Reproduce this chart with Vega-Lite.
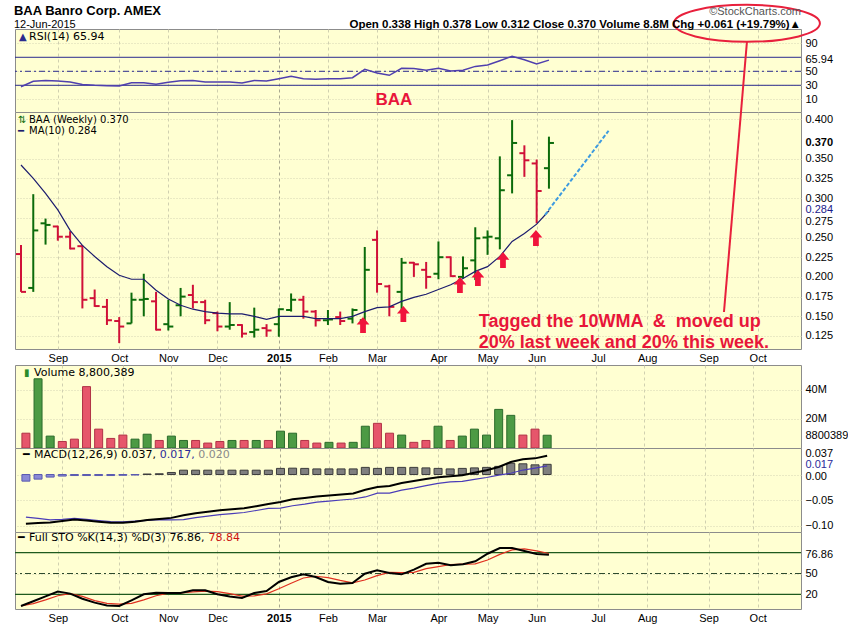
{
"$schema": "https://vega.github.io/schema/vega-lite/v6.json",
"background": "white",
"padding": {"left": 13, "top": 0, "right": 0, "bottom": 0},
"spacing": 0,
"bounds": "flush",
"title": {"text": "BAA Banro Corp. AMEX", "subtitle": "12-Jun-2015", "anchor": "start", "font": "Liberation Sans Narrow, Liberation Sans", "fontSize": 13, "fontWeight": "bold", "color": "#000000", "subtitleFont": "Liberation Sans", "subtitleFontSize": 11, "subtitleColor": "#000000", "subtitlePadding": 1, "offset": -30},
"config": {
  "view": {"fill": "#ffffd2", "stroke": "#8c8c8c", "strokeWidth": 1},
  "axis": {"domain": false, "ticks": false, "labelFont": "Liberation Sans", "labelFontSize": 11, "labelColor": "#000000", "gridColor": "#d4d4b4", "gridDash": [1, 2], "labelPadding": 4, "labelOverlap": false},
  "text": {"font": "DejaVu Sans"}
},
"datasets": {"w": [
{"d":"2014-08-11T00:00","o":0.229,"h":0.2405,"l":0.181,"c":0.181,"dir":"down","v":10200000,"ma":0.342,"rsi":28,"macd":-0.0965,"sig":-0.0835,"hist":-0.013,"k":3.2,"dd":3.2},
{"d":"2014-08-18T00:00","o":0.186,"h":0.305,"l":0.181,"c":0.259,"dir":"up","v":47700000,"ma":0.325,"rsi":35.7,"macd":-0.095,"sig":-0.086,"hist":-0.009,"k":10,"dd":6.5},
{"d":"2014-08-25T00:00","o":0.268,"h":0.274,"l":0.241,"c":0.266,"dir":"up","v":8200000,"ma":0.306,"rsi":37,"macd":-0.094,"sig":-0.089,"hist":-0.005,"k":17,"dd":12},
{"d":"2014-09-01T00:00","o":0.264,"h":0.265,"l":0.246,"c":0.251,"dir":"down","v":4500000,"ma":0.285,"rsi":36,"macd":-0.091,"sig":-0.088,"hist":-0.003,"k":24,"dd":18},
{"d":"2014-09-08T00:00","o":0.251,"h":0.258,"l":0.235,"c":0.236,"dir":"down","v":6100000,"ma":0.259,"rsi":34.7,"macd":-0.088,"sig":-0.086,"hist":-0.002,"k":21,"dd":21},
{"d":"2014-09-15T00:00","o":0.239,"h":0.24,"l":0.16,"c":0.171,"dir":"down","v":42300000,"ma":0.24,"rsi":31,"macd":-0.09,"sig":-0.088,"hist":-0.002,"k":13.7,"dd":17},
{"d":"2014-09-22T00:00","o":0.173,"h":0.184,"l":0.162,"c":0.163,"dir":"down","v":13000000,"ma":0.226,"rsi":30,"macd":-0.0925,"sig":-0.0905,"hist":-0.002,"k":8,"dd":11},
{"d":"2014-09-29T00:00","o":0.162,"h":0.172,"l":0.139,"c":0.145,"dir":"down","v":6600000,"ma":0.213,"rsi":29.5,"macd":-0.0945,"sig":-0.0925,"hist":-0.002,"k":4,"dd":7},
{"d":"2014-10-06T00:00","o":0.144,"h":0.149,"l":0.116,"c":0.137,"dir":"down","v":8900000,"ma":0.202,"rsi":29,"macd":-0.0945,"sig":-0.093,"hist":-0.0015,"k":3.2,"dd":6},
{"d":"2014-10-13T00:00","o":0.141,"h":0.18,"l":0.141,"c":0.171,"dir":"up","v":6100000,"ma":0.197,"rsi":33.7,"macd":-0.0925,"sig":-0.0915,"hist":-0.001,"k":11.4,"dd":7},
{"d":"2014-10-20T00:00","o":0.171,"h":0.204,"l":0.15,"c":0.172,"dir":"up","v":9500000,"ma":0.197,"rsi":33.7,"macd":-0.089,"sig":-0.09,"hist":0.001,"k":20,"dd":12},
{"d":"2014-10-27T00:00","o":0.169,"h":0.181,"l":0.132,"c":0.133,"dir":"down","v":5200000,"ma":0.183,"rsi":31.4,"macd":-0.087,"sig":-0.0885,"hist":0.0015,"k":22.4,"dd":18},
{"d":"2014-11-03T00:00","o":0.14,"h":0.171,"l":0.132,"c":0.137,"dir":"up","v":8200000,"ma":0.172,"rsi":34.3,"macd":-0.085,"sig":-0.089,"hist":0.004,"k":22,"dd":21.5},
{"d":"2014-11-10T00:00","o":0.164,"h":0.186,"l":0.15,"c":0.175,"dir":"up","v":5200000,"ma":0.164,"rsi":36.6,"macd":-0.08,"sig":-0.0885,"hist":0.0085,"k":22,"dd":22},
{"d":"2014-11-17T00:00","o":0.177,"h":0.19,"l":0.16,"c":0.168,"dir":"down","v":5200000,"ma":0.159,"rsi":37,"macd":-0.076,"sig":-0.0845,"hist":0.0085,"k":25.8,"dd":23.5},
{"d":"2014-11-24T00:00","o":0.168,"h":0.171,"l":0.14,"c":0.145,"dir":"down","v":3400000,"ma":0.156,"rsi":34.7,"macd":-0.073,"sig":-0.0815,"hist":0.0085,"k":25.8,"dd":24.5},
{"d":"2014-12-01T00:00","o":0.154,"h":0.156,"l":0.131,"c":0.137,"dir":"down","v":4500000,"ma":0.154,"rsi":34.7,"macd":-0.07,"sig":-0.0785,"hist":0.0085,"k":20,"dd":23.8},
{"d":"2014-12-08T00:00","o":0.137,"h":0.168,"l":0.133,"c":0.139,"dir":"up","v":5200000,"ma":0.153,"rsi":34.7,"macd":-0.068,"sig":-0.0765,"hist":0.0085,"k":17,"dd":21},
{"d":"2014-12-15T00:00","o":0.139,"h":0.14,"l":0.123,"c":0.128,"dir":"down","v":5200000,"ma":0.153,"rsi":33.3,"macd":-0.066,"sig":-0.0745,"hist":0.0085,"k":14.7,"dd":17.5},
{"d":"2014-12-22T00:00","o":0.13,"h":0.161,"l":0.123,"c":0.133,"dir":"up","v":5200000,"ma":0.15,"rsi":37,"macd":-0.062,"sig":-0.0705,"hist":0.0085,"k":21.9,"dd":17.8},
{"d":"2014-12-29T00:00","o":0.135,"h":0.14,"l":0.124,"c":0.132,"dir":"down","v":5200000,"ma":0.146,"rsi":36,"macd":-0.058,"sig":-0.0665,"hist":0.0085,"k":24.8,"dd":20.6},
{"d":"2015-01-05T00:00","o":0.14,"h":0.16,"l":0.124,"c":0.159,"dir":"up","v":11600000,"ma":0.15,"rsi":39.5,"macd":-0.054,"sig":-0.066,"hist":0.012,"k":37.8,"dd":28},
{"d":"2015-01-12T00:00","o":0.158,"h":0.179,"l":0.156,"c":0.171,"dir":"up","v":10200000,"ma":0.15,"rsi":42.8,"macd":-0.0487,"sig":-0.0612,"hist":0.0125,"k":44.5,"dd":36},
{"d":"2015-01-19T00:00","o":0.171,"h":0.176,"l":0.147,"c":0.156,"dir":"down","v":5200000,"ma":0.15,"rsi":39.5,"macd":-0.046,"sig":-0.058,"hist":0.012,"k":48.8,"dd":43.5},
{"d":"2015-01-26T00:00","o":0.156,"h":0.158,"l":0.137,"c":0.145,"dir":"down","v":3400000,"ma":0.147,"rsi":38.6,"macd":-0.043,"sig":-0.054,"hist":0.011,"k":45,"dd":46},
{"d":"2015-02-02T00:00","o":0.145,"h":0.158,"l":0.139,"c":0.146,"dir":"up","v":3900000,"ma":0.147,"rsi":39.5,"macd":-0.041,"sig":-0.052,"hist":0.011,"k":37.8,"dd":44},
{"d":"2015-02-09T00:00","o":0.149,"h":0.156,"l":0.139,"c":0.144,"dir":"down","v":3400000,"ma":0.147,"rsi":39.5,"macd":-0.039,"sig":-0.05,"hist":0.011,"k":35.3,"dd":40},
{"d":"2015-02-16T00:00","o":0.147,"h":0.16,"l":0.141,"c":0.158,"dir":"up","v":3900000,"ma":0.15,"rsi":40.9,"macd":-0.037,"sig":-0.048,"hist":0.011,"k":36.3,"dd":36.5},
{"d":"2015-02-23T00:00","o":0.145,"h":0.238,"l":0.141,"c":0.209,"dir":"up","v":15000000,"ma":0.156,"rsi":52.8,"macd":-0.03,"sig":-0.044,"hist":0.014,"k":49.7,"dd":40.6},
{"d":"2015-03-02T00:00","o":0.247,"h":0.259,"l":0.18,"c":0.191,"dir":"down","v":17000000,"ma":0.161,"rsi":47.6,"macd":-0.0245,"sig":-0.0365,"hist":0.012,"k":54.6,"dd":47},
{"d":"2015-03-09T00:00","o":0.188,"h":0.19,"l":0.15,"c":0.162,"dir":"down","v":10200000,"ma":0.162,"rsi":44.3,"macd":-0.0225,"sig":-0.0365,"hist":0.014,"k":50.7,"dd":51.6},
{"d":"2015-03-16T00:00","o":0.181,"h":0.224,"l":0.154,"c":0.218,"dir":"up","v":8900000,"ma":0.169,"rsi":54.3,"macd":-0.0167,"sig":-0.0307,"hist":0.014,"k":48.8,"dd":51.4},
{"d":"2015-03-23T00:00","o":0.218,"h":0.219,"l":0.2,"c":0.216,"dir":"down","v":3900000,"ma":0.174,"rsi":54,"macd":-0.0127,"sig":-0.0267,"hist":0.014,"k":55.5,"dd":51.6},
{"d":"2015-03-30T00:00","o":0.209,"h":0.219,"l":0.185,"c":0.2,"dir":"down","v":5200000,"ma":0.178,"rsi":51.4,"macd":-0.0088,"sig":-0.0218,"hist":0.013,"k":64,"dd":57},
{"d":"2015-04-06T00:00","o":0.204,"h":0.245,"l":0.197,"c":0.225,"dir":"up","v":15000000,"ma":0.184,"rsi":54.3,"macd":-0.0055,"sig":-0.0175,"hist":0.012,"k":65.6,"dd":60},
{"d":"2015-04-13T00:00","o":0.225,"h":0.226,"l":0.2,"c":0.201,"dir":"down","v":5200000,"ma":0.19,"rsi":50.4,"macd":-0.0035,"sig":-0.0145,"hist":0.011,"k":61.8,"dd":63},
{"d":"2015-04-20T00:00","o":0.2,"h":0.226,"l":0.198,"c":0.211,"dir":"up","v":8200000,"ma":0.198,"rsi":51.4,"macd":-0.0016,"sig":-0.0136,"hist":0.012,"k":63.2,"dd":63.5},
{"d":"2015-04-27T00:00","o":0.221,"h":0.263,"l":0.196,"c":0.249,"dir":"up","v":13000000,"ma":0.207,"rsi":57,"macd":0.0036,"sig":-0.0094,"hist":0.013,"k":67.6,"dd":64},
{"d":"2015-05-04T00:00","o":0.25,"h":0.259,"l":0.228,"c":0.251,"dir":"up","v":8900000,"ma":0.213,"rsi":59,"macd":0.0082,"sig":-0.0058,"hist":0.014,"k":78.5,"dd":69.5},
{"d":"2015-05-11T00:00","o":0.249,"h":0.353,"l":0.235,"c":0.31,"dir":"up","v":26600000,"ma":0.226,"rsi":65,"macd":0.0147,"sig":-0.0013,"hist":0.016,"k":86.7,"dd":77.5},
{"d":"2015-05-18T00:00","o":0.329,"h":0.399,"l":0.306,"c":0.37,"dir":"up","v":22500000,"ma":0.245,"rsi":71.4,"macd":0.0245,"sig":0.0025,"hist":0.022,"k":86.7,"dd":84},
{"d":"2015-05-25T00:00","o":0.357,"h":0.367,"l":0.327,"c":0.348,"dir":"down","v":8900000,"ma":0.255,"rsi":66.6,"macd":0.0298,"sig":0.0088,"hist":0.021,"k":82.4,"dd":85.4},
{"d":"2015-06-01T00:00","o":0.344,"h":0.349,"l":0.268,"c":0.309,"dir":"down","v":13000000,"ma":0.267,"rsi":60.4,"macd":0.0317,"sig":0.0127,"hist":0.019,"k":78,"dd":82.5},
{"d":"2015-06-08T00:00","o":0.338,"h":0.378,"l":0.312,"c":0.37,"dir":"up","v":8800389,"ma":0.284,"rsi":65.94,"macd":0.037,"sig":0.017,"hist":0.02,"k":76.86,"dd":78.84}
]},
"vconcat": [
{
  "width": 786, "height": 83,
  "resolve": {"axis": {"x": "independent", "y": "independent"}},
  "title": {"text": "©StockCharts.com", "subtitle": "Open 0.338 High 0.378 Low 0.312 Close 0.370 Volume 8.8M Chg +0.061 (+19.79%)▲", "anchor": "end", "frame": "group", "font": "Liberation Sans", "fontSize": 11, "fontWeight": "normal", "color": "#555555", "subtitleFont": "Liberation Sans", "subtitleFontSize": 11.5, "subtitleFontWeight": "bold", "subtitleColor": "#000000", "subtitlePadding": 2, "offset": -30},
  "layer": [
    {"data": {"values": [{"lv": 70}, {"lv": 30}]}, "mark": {"type": "rule", "color": "#2b2b8e", "strokeWidth": 1}, "encoding": {"y": {"field": "lv", "type": "quantitative", "axis": null}}},
    {"data": {"values": [{"lv": 50}]}, "mark": {"type": "rule", "color": "#2b2b8e", "strokeWidth": 1, "strokeDash": [6, 3, 2, 3]}, "encoding": {"y": {"field": "lv", "type": "quantitative", "axis": null}}},
    {"data": {"name": "w"}, "mark": {"type": "line", "color": "#4f3fae", "strokeWidth": 1.5},
     "encoding": {
       "x": {"field": "d", "type": "temporal", "scale": {"domain": [{"year":2014,"month":8,"date":7,"hours":14},{"year":2015,"month":10,"date":29,"hours":17}]},
             "axis": {"title": null, "values": [{"year":2014,"month":9,"date":1},{"year":2014,"month":10,"date":6},{"year":2014,"month":11,"date":3},{"year":2014,"month":12,"date":1},{"year":2015,"month":1,"date":5},{"year":2015,"month":2,"date":2},{"year":2015,"month":3,"date":2},{"year":2015,"month":4,"date":6},{"year":2015,"month":5,"date":4},{"year":2015,"month":6,"date":1},{"year":2015,"month":7,"date":6},{"year":2015,"month":8,"date":3},{"year":2015,"month":9,"date":7},{"year":2015,"month":10,"date":5}],
                      "labels": false, "grid": true, "gridDash": [3, 3], "gridColor": {"condition": {"test": "month(datum.value)==0", "value": "#a9a990"}, "value": "#d0d0b0"}}},
       "y": {"field": "rsi", "type": "quantitative", "scale": {"domain": [-8.14, 110.4], "nice": false, "zero": false},
             "axis": {"title": null, "orient": "right", "values": [10, 30, 50, 65.94, 90], "labelExpr": "datum.value==65.94 ? '65.94' : format(datum.value,'d')", "labelOverlap": false,
                      "labelOffset": {"condition": {"test": "datum.value==65.94", "value": -1}, "value": 0.5},
                      "grid": true, "gridColor": {"condition": {"test": "datum.value==65.94", "value": "transparent"}, "value": "#d4d4b4"}}}
     }},
    {"data": {"values": [{"a": "2015-03-11T14:00", "r": 8.6, "t": "BAA"}]}, "mark": {"type": "text", "font": "Liberation Sans", "fontSize": 17, "fontWeight": "bold", "color": "#e8163a", "align": "center", "baseline": "middle"},
     "encoding": {"x": {"field": "a", "type": "temporal", "axis": null}, "y": {"field": "r", "type": "quantitative", "axis": null}, "text": {"field": "t"}}},
    {"data": {"values": [{"a": "2015-09-28T21:00", "b": "2015-09-25T12:00", "r1": 91.9, "r2": -8.14}]}, "mark": {"type": "rule", "color": "#e8203c", "strokeWidth": 2},
     "encoding": {"x": {"field": "a", "type": "temporal", "axis": null}, "x2": {"field": "b"}, "y": {"field": "r1", "type": "quantitative", "axis": null}, "y2": {"field": "r2"}}},
    {"data": {"values": [{"a": "2015-09-28T21:00", "r": 118.5}]}, "mark": {"type": "point", "shape": "M -1 0 A 1 0.2534 0 1 0 1 0 A 1 0.2534 0 1 0 -1 0 Z", "size": 21316, "filled": false, "stroke": "#e8203c", "strokeWidth": 2, "opacity": 1},
     "encoding": {"x": {"field": "a", "type": "temporal", "axis": null}, "y": {"field": "r", "type": "quantitative", "axis": null}}},
    {"data": {"values": [{"t": "▲"}]}, "mark": {"type": "text", "align": "left", "baseline": "middle", "dx": 4, "dy": 7.5, "fontSize": 10, "color": "#2b2b8e"},
     "encoding": {"x": {"datum": {"year":2014,"month":8,"date":7,"hours":14}, "type": "temporal", "axis": null}, "y": {"datum": 110.4, "type": "quantitative", "axis": null}, "text": {"field": "t"}}},
    {"data": {"values": [{"t": "RSI(14) 65.94"}]}, "mark": {"type": "text", "align": "left", "baseline": "middle", "dx": 14, "dy": 7.5, "fontSize": 11, "color": "#000000"},
     "encoding": {"x": {"datum": {"year":2014,"month":8,"date":7,"hours":14}, "type": "temporal", "axis": null}, "y": {"datum": 110.4, "type": "quantitative", "axis": null}, "text": {"field": "t"}}}
  ]
},
{
  "width": 786, "height": 237,
  "resolve": {"axis": {"x": "independent", "y": "independent"}},
  "layer": [
    {"data": {"name": "w"}, "mark": {"type": "rule", "strokeWidth": 2},
     "encoding": {
       "x": {"field": "d", "type": "temporal", "scale": {"domain": [{"year":2014,"month":8,"date":7,"hours":14},{"year":2015,"month":10,"date":29,"hours":17}]},
             "axis": {"title": null, "values": [{"year":2014,"month":9,"date":1},{"year":2014,"month":10,"date":6},{"year":2014,"month":11,"date":3},{"year":2014,"month":12,"date":1},{"year":2015,"month":1,"date":5},{"year":2015,"month":2,"date":2},{"year":2015,"month":3,"date":2},{"year":2015,"month":4,"date":6},{"year":2015,"month":5,"date":4},{"year":2015,"month":6,"date":1},{"year":2015,"month":7,"date":6},{"year":2015,"month":8,"date":3},{"year":2015,"month":9,"date":7},{"year":2015,"month":10,"date":5}],
                      "labelExpr": "month(datum.value)==0 ? timeFormat(datum.value,'%Y') : timeFormat(datum.value,'%b')",
                      "labelFontWeight": {"condition": {"test": "month(datum.value)==0", "value": "bold"}, "value": "normal"},
                      "labelFlush": false, "labelOverlap": false, "labelPadding": 3,
                      "grid": true, "gridDash": [3, 3], "gridColor": {"condition": {"test": "month(datum.value)==0", "value": "#a9a990"}, "value": "#d0d0b0"}}},
       "y": {"field": "l", "type": "quantitative", "scale": {"domain": [0.1085, 0.4093], "nice": false, "zero": false},
             "axis": {"title": null, "orient": "right", "values": [0.125, 0.15, 0.175, 0.2, 0.225, 0.25, 0.275, 0.284, 0.3, 0.325, 0.35, 0.37, 0.4], "labelExpr": "format(datum.value,'.3f')", "labelOverlap": false,
                      "labelOffset": {"condition": [{"test": "datum.value==0.284", "value": -1}, {"test": "datum.value==0.275", "value": 3.5}], "value": 0},
                      "labelFontWeight": {"condition": {"test": "datum.value==0.37", "value": "bold"}, "value": "normal"},
                      "labelColor": {"condition": {"test": "datum.value==0.284", "value": "#1a1a8a"}, "value": "#000000"},
                      "grid": true, "gridColor": {"condition": {"test": "datum.value==0.37 || datum.value==0.284", "value": "transparent"}, "value": "#d4d4b4"}}},
       "y2": {"field": "h"},
       "color": {"condition": {"test": "datum.dir=='up'", "value": "#0b6b0b"}, "value": "#d01038"}
     }},
    {"data": {"name": "w"}, "mark": {"type": "rule", "strokeWidth": 2, "xOffset": -5, "x2Offset": 0},
     "encoding": {"x": {"field": "d", "type": "temporal", "axis": null}, "x2": {"field": "d"}, "y": {"field": "o", "type": "quantitative", "axis": null},
       "color": {"condition": {"test": "datum.dir=='up'", "value": "#0b6b0b"}, "value": "#d01038"}}},
    {"data": {"name": "w"}, "mark": {"type": "rule", "strokeWidth": 2, "xOffset": 0, "x2Offset": 5},
     "encoding": {"x": {"field": "d", "type": "temporal", "axis": null}, "x2": {"field": "d"}, "y": {"field": "c", "type": "quantitative", "axis": null},
       "color": {"condition": {"test": "datum.dir=='up'", "value": "#0b6b0b"}, "value": "#d01038"}}},
    {"data": {"name": "w"}, "mark": {"type": "line", "color": "#1c1c6e", "strokeWidth": 1.2},
     "encoding": {"x": {"field": "d", "type": "temporal", "axis": null}, "y": {"field": "ma", "type": "quantitative", "axis": null}}},
    {"data": {"values": [{"a": "2015-06-05T17:00", "p": 0.2786}, {"a": "2015-07-12T00:00", "p": 0.3855}]}, "mark": {"type": "line", "color": "#3d9be0", "strokeWidth": 2, "strokeDash": [4, 2]},
     "encoding": {"x": {"field": "a", "type": "temporal", "axis": null}, "y": {"field": "p", "type": "quantitative", "axis": null}}},
    {"data": {"values": [{"a": "2015-02-22T00:00", "p": 0.139}, {"a": "2015-03-17T00:00", "p": 0.1529}, {"a": "2015-04-18T06:00", "p": 0.1897}, {"a": "2015-04-28T12:00", "p": 0.1986}, {"a": "2015-05-12T19:00", "p": 0.2214}, {"a": "2015-05-31T14:00", "p": 0.2494}]},
     "mark": {"type": "point", "shape": "M 0 -1 L 0.8 -0.05 L 0.36 -0.05 L 0.36 1 L -0.36 1 L -0.36 -0.05 L -0.8 -0.05 Z", "size": 256, "filled": true, "fill": "#f0143c", "strokeWidth": 0, "opacity": 1},
     "encoding": {"x": {"field": "a", "type": "temporal", "axis": null}, "y": {"field": "p", "type": "quantitative", "axis": null}}},
    {"data": {"values": [{"a": "2015-04-29T00:00", "p": 0.1434, "t": "Tagged the 10WMA \u00a0& \u00a0moved up"}, {"a": "2015-04-29T00:00", "p": 0.1161, "t": "20% last week and 20% this week."}]},
     "mark": {"type": "text", "font": "Liberation Sans", "fontSize": 18, "fontWeight": "bold", "color": "#e8163a", "align": "left", "baseline": "middle"},
     "encoding": {"x": {"field": "a", "type": "temporal", "axis": null}, "y": {"field": "p", "type": "quantitative", "axis": null}, "text": {"field": "t"}}},
    {"data": {"values": [{"a": "2015-09-25T12:00", "b": "2015-09-15T19:00", "p1": 0.4093, "p2": 0.1555}]}, "mark": {"type": "rule", "color": "#e8203c", "strokeWidth": 2},
     "encoding": {"x": {"field": "a", "type": "temporal", "axis": null}, "x2": {"field": "b"}, "y": {"field": "p1", "type": "quantitative", "axis": null}, "y2": {"field": "p2"}}},
    {"data": {"values": [{"t": "⇅", "c": "#0b6b0b", "o": 7.5}, {"t": "━", "c": "#1c1c6e", "o": 18.5}]}, "mark": {"type": "text", "align": "left", "baseline": "middle", "dx": 3, "fontSize": 10},
     "encoding": {"x": {"datum": {"year":2014,"month":8,"date":7,"hours":14}, "type": "temporal", "axis": null}, "y": {"datum": 0.4093, "type": "quantitative", "axis": null}, "yOffset": {"field": "o", "type": "quantitative", "scale": null}, "text": {"field": "t"}, "color": {"field": "c", "type": "nominal", "scale": null}}},
    {"data": {"values": [{"t": "BAA (Weekly) 0.370", "o": 7.5}, {"t": "MA(10) 0.284", "o": 18.5}]}, "mark": {"type": "text", "align": "left", "baseline": "middle", "dx": 14, "fontSize": 10, "color": "#000000"},
     "encoding": {"x": {"datum": {"year":2014,"month":8,"date":7,"hours":14}, "type": "temporal", "axis": null}, "y": {"datum": 0.4093, "type": "quantitative", "axis": null}, "yOffset": {"field": "o", "type": "quantitative", "scale": null}, "text": {"field": "t"}}}
  ]
},
{
  "width": 786, "height": 16,
  "view": {"fill": null, "stroke": null},
  "data": {"values": []},
  "mark": {"type": "point", "opacity": 0},
  "encoding": {}
},
{
  "width": 786, "height": 83,
  "resolve": {"axis": {"x": "independent", "y": "independent"}},
  "layer": [
    {"data": {"name": "w"}, "mark": {"type": "bar", "width": 8, "strokeWidth": 1},
     "encoding": {
       "x": {"field": "d", "type": "temporal", "scale": {"domain": [{"year":2014,"month":8,"date":7,"hours":14},{"year":2015,"month":10,"date":29,"hours":17}]},
             "axis": {"title": null, "values": [{"year":2014,"month":9,"date":1},{"year":2014,"month":10,"date":6},{"year":2014,"month":11,"date":3},{"year":2014,"month":12,"date":1},{"year":2015,"month":1,"date":5},{"year":2015,"month":2,"date":2},{"year":2015,"month":3,"date":2},{"year":2015,"month":4,"date":6},{"year":2015,"month":5,"date":4},{"year":2015,"month":6,"date":1},{"year":2015,"month":7,"date":6},{"year":2015,"month":8,"date":3},{"year":2015,"month":9,"date":7},{"year":2015,"month":10,"date":5}],
                      "labels": false, "grid": true, "gridDash": [3, 3], "gridColor": {"condition": {"test": "month(datum.value)==0", "value": "#a9a990"}, "value": "#d0d0b0"}}},
       "y": {"field": "v", "type": "quantitative", "scale": {"domain": [0, 57200000], "nice": false, "zero": false},
             "axis": {"title": null, "orient": "right", "values": [8800389, 20000000, 40000000], "labelExpr": "datum.value==8800389 ? '8800389' : format(datum.value/1000000,'d')+'M'", "labelOverlap": false, "grid": true, "gridColor": {"condition": {"test": "datum.value==8800389", "value": "transparent"}, "value": "#d4d4b4"}}},
       "fill": {"condition": {"test": "datum.dir=='up'", "value": "#4c9a44"}, "value": "#e6566b"},
       "stroke": {"condition": {"test": "datum.dir=='up'", "value": "#2b6b2b"}, "value": "#b03246"}
     }},
    {"data": {"values": [{"t": "▮"}]}, "mark": {"type": "text", "align": "left", "baseline": "middle", "dx": 4, "dy": 8, "fontSize": 10, "color": "#2b8b2b"},
     "encoding": {"x": {"datum": {"year":2014,"month":8,"date":7,"hours":14}, "type": "temporal", "axis": null}, "y": {"datum": 57200000, "type": "quantitative", "axis": null}, "text": {"field": "t"}}},
    {"data": {"values": [{"t": "Volume 8,800,389"}]}, "mark": {"type": "text", "align": "left", "baseline": "middle", "dx": 14, "dy": 8, "fontSize": 11, "color": "#000000"},
     "encoding": {"x": {"datum": {"year":2014,"month":8,"date":7,"hours":14}, "type": "temporal", "axis": null}, "y": {"datum": 57200000, "type": "quantitative", "axis": null}, "text": {"field": "t"}}}
  ]
},
{
  "width": 786, "height": 84,
  "resolve": {"axis": {"x": "independent", "y": "independent"}},
  "layer": [
    {"data": {"name": "w"}, "mark": {"type": "bar", "width": 8, "strokeWidth": 1},
     "encoding": {
       "x": {"field": "d", "type": "temporal", "scale": {"domain": [{"year":2014,"month":8,"date":7,"hours":14},{"year":2015,"month":10,"date":29,"hours":17}]},
             "axis": {"title": null, "values": [{"year":2014,"month":9,"date":1},{"year":2014,"month":10,"date":6},{"year":2014,"month":11,"date":3},{"year":2014,"month":12,"date":1},{"year":2015,"month":1,"date":5},{"year":2015,"month":2,"date":2},{"year":2015,"month":3,"date":2},{"year":2015,"month":4,"date":6},{"year":2015,"month":5,"date":4},{"year":2015,"month":6,"date":1},{"year":2015,"month":7,"date":6},{"year":2015,"month":8,"date":3},{"year":2015,"month":9,"date":7},{"year":2015,"month":10,"date":5}],
                      "labels": false, "grid": true, "gridDash": [3, 3], "gridColor": {"condition": {"test": "month(datum.value)==0", "value": "#a9a990"}, "value": "#d0d0b0"}}},
       "y": {"field": "hist", "type": "quantitative", "scale": {"domain": [-0.1127, 0.052], "nice": false, "zero": false},
             "axis": {"title": null, "orient": "right", "values": [-0.1, -0.05, 0, 0.017, 0.037], "labelExpr": "datum.value==0.017 ? '0.017' : datum.value==0.037 ? '0.037' : format(datum.value,'.2f')", "labelOverlap": false,
                      "labelOffset": {"condition": [{"test": "datum.value==0.037", "value": -2.5}, {"test": "datum.value==0.017", "value": -1.5}, {"test": "datum.value==0", "value": 1.5}], "value": 0},
                      "labelColor": {"condition": {"test": "datum.value==0.017", "value": "#2b2b9b"}, "value": "#000000"},
                      "grid": true, "gridColor": {"condition": {"test": "datum.value==0.017 || datum.value==0.037", "value": "transparent"}, "value": "#d4d4b4"}}},
       "y2": {"datum": 0},
       "fill": {"condition": {"test": "datum.hist < 0", "value": "#8a8ad6"}, "value": "#7f7f7f"},
       "stroke": {"condition": {"test": "datum.hist < 0", "value": "#5a5ab0"}, "value": "#3c3c3c"}
     }},
    {"data": {"name": "w"}, "mark": {"type": "line", "color": "#4a3cb8", "strokeWidth": 1.2},
     "encoding": {"x": {"field": "d", "type": "temporal", "axis": null}, "y": {"field": "sig", "type": "quantitative", "axis": null}}},
    {"data": {"name": "w"}, "mark": {"type": "line", "color": "#000000", "strokeWidth": 2},
     "encoding": {"x": {"field": "d", "type": "temporal", "axis": null}, "y": {"field": "macd", "type": "quantitative", "axis": null}}},
    {"data": {"values": [{"t": "━", "x": 3, "c": "#000000"}, {"t": "MACD(12,26,9) 0.037,", "x": 14, "c": "#000000"}, {"t": "0.017,", "x": 139.7, "c": "#2b2b9b"}, {"t": "0.020", "x": 178.2, "c": "#8a8a8a"}]},
     "mark": {"type": "text", "align": "left", "baseline": "middle", "dy": 7, "fontSize": 11},
     "encoding": {"x": {"datum": {"year":2014,"month":8,"date":7,"hours":14}, "type": "temporal", "axis": null}, "xOffset": {"field": "x", "type": "quantitative", "scale": null}, "y": {"datum": 0.052, "type": "quantitative", "axis": null}, "text": {"field": "t"}, "color": {"field": "c", "type": "nominal", "scale": null}}}
  ]
},
{
  "width": 786, "height": 77,
  "resolve": {"axis": {"x": "independent", "y": "independent"}},
  "layer": [
    {"data": {"values": [{"lv": 80}, {"lv": 20}]}, "mark": {"type": "rule", "color": "#1e5a1e", "strokeWidth": 1.2}, "encoding": {"y": {"field": "lv", "type": "quantitative", "axis": null}}},
    {"data": {"values": [{"lv": 50}]}, "mark": {"type": "rule", "color": "#2d4a2d", "strokeWidth": 1, "strokeDash": [6, 3, 2, 3]}, "encoding": {"y": {"field": "lv", "type": "quantitative", "axis": null}}},
    {"data": {"name": "w"}, "mark": {"type": "line", "color": "#e03020", "strokeWidth": 1.2},
     "encoding": {
       "x": {"field": "d", "type": "temporal", "scale": {"domain": [{"year":2014,"month":8,"date":7,"hours":14},{"year":2015,"month":10,"date":29,"hours":17}]},
             "axis": {"title": null, "values": [{"year":2014,"month":9,"date":1},{"year":2014,"month":10,"date":6},{"year":2014,"month":11,"date":3},{"year":2014,"month":12,"date":1},{"year":2015,"month":1,"date":5},{"year":2015,"month":2,"date":2},{"year":2015,"month":3,"date":2},{"year":2015,"month":4,"date":6},{"year":2015,"month":5,"date":4},{"year":2015,"month":6,"date":1},{"year":2015,"month":7,"date":6},{"year":2015,"month":8,"date":3},{"year":2015,"month":9,"date":7},{"year":2015,"month":10,"date":5}],
                      "labelExpr": "month(datum.value)==0 ? timeFormat(datum.value,'%Y') : timeFormat(datum.value,'%b')",
                      "labelFontWeight": {"condition": {"test": "month(datum.value)==0", "value": "bold"}, "value": "normal"},
                      "labelFlush": false, "labelOverlap": false, "labelPadding": 3,
                      "grid": true, "gridDash": [3, 3], "gridColor": {"condition": {"test": "month(datum.value)==0", "value": "#a9a990"}, "value": "#d0d0b0"}}},
       "y": {"field": "dd", "type": "quantitative", "scale": {"domain": [-1.15, 109.8], "nice": false, "zero": false},
             "axis": {"title": null, "orient": "right", "values": [20, 50, 76.86], "labelExpr": "datum.value==76.86 ? '76.86' : format(datum.value,'d')", "labelOverlap": false, "grid": true, "gridColor": {"condition": {"test": "datum.value==76.86", "value": "transparent"}, "value": "#d4d4b4"}}}
     }},
    {"data": {"name": "w"}, "mark": {"type": "line", "color": "#000000", "strokeWidth": 2},
     "encoding": {"x": {"field": "d", "type": "temporal", "axis": null}, "y": {"field": "k", "type": "quantitative", "axis": null}}},
    {"data": {"values": [{"t": "━", "x": 3, "c": "#000000"}, {"t": "Full STO %K(14,3) %D(3) 76.86,", "x": 14, "c": "#000000"}, {"t": "78.84", "x": 193.5, "c": "#cc1111"}]},
     "mark": {"type": "text", "align": "left", "baseline": "middle", "dy": 6, "fontSize": 11},
     "encoding": {"x": {"datum": {"year":2014,"month":8,"date":7,"hours":14}, "type": "temporal", "axis": null}, "xOffset": {"field": "x", "type": "quantitative", "scale": null}, "y": {"datum": 109.8, "type": "quantitative", "axis": null}, "text": {"field": "t"}, "color": {"field": "c", "type": "nominal", "scale": null}}}
  ]
}
]
}
